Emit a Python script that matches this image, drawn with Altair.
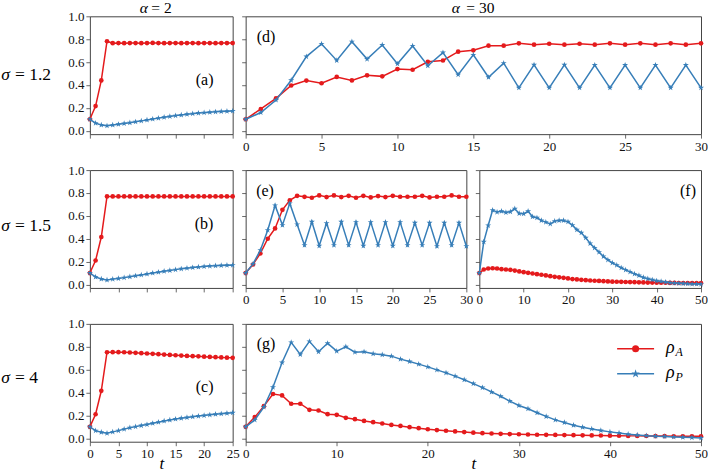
import altair as alt
import pandas as pd

RED = "#e41a1c"
BLUE = "#377eb8"
FONT = "Liberation Serif, DejaVu Serif, serif"
FRAME = "#444444"

# five-pointed star inside the [-1, 1] box
STAR = ("M0,-1L0.225,-0.309L0.951,-0.309L0.363,0.118L0.588,0.809L0,0.382"
        "L-0.588,0.809L-0.363,0.118L-0.951,-0.309L-0.225,-0.309Z")

# ---- alpha = 2 column (t = 0..25) ----
A_RHO_A = [0.100, 0.215, 0.440, 0.782, 0.765, 0.766, 0.765, 0.766, 0.766, 0.765,
           0.766, 0.767, 0.766, 0.765, 0.766, 0.766, 0.765, 0.766, 0.766, 0.765,
           0.766, 0.766, 0.765, 0.766, 0.766, 0.766]
A_RHO_P = [0.100, 0.066, 0.050, 0.043, 0.050, 0.056, 0.063, 0.070, 0.078, 0.086,
           0.094, 0.102, 0.110, 0.118, 0.125, 0.132, 0.138, 0.144, 0.149, 0.154,
           0.158, 0.162, 0.165, 0.168, 0.170, 0.172]

B_RHO_A = [0.100, 0.210, 0.415, 0.770, 0.770, 0.770, 0.770, 0.770, 0.770, 0.770,
           0.770, 0.770, 0.770, 0.770, 0.770, 0.770, 0.770, 0.770, 0.770, 0.770,
           0.770, 0.770, 0.770, 0.770, 0.770, 0.770]
B_RHO_P = [0.100, 0.066, 0.048, 0.040, 0.047, 0.053, 0.060, 0.068, 0.076, 0.084,
           0.092, 0.100, 0.108, 0.116, 0.123, 0.130, 0.137, 0.143, 0.148, 0.153,
           0.157, 0.161, 0.164, 0.166, 0.168, 0.169]

C_RHO_A = [0.100, 0.210, 0.415, 0.752, 0.753, 0.753, 0.752, 0.750, 0.747, 0.744,
           0.741, 0.738, 0.735, 0.732, 0.729, 0.726, 0.723, 0.720, 0.718, 0.716,
           0.713, 0.711, 0.709, 0.707, 0.705, 0.703]
C_RHO_P = [0.100, 0.067, 0.053, 0.044, 0.056, 0.067, 0.080, 0.092, 0.102, 0.111,
           0.120, 0.131, 0.141, 0.151, 0.160, 0.168, 0.175, 0.182, 0.188, 0.194,
           0.199, 0.205, 0.210, 0.214, 0.219, 0.223]

# ---- alpha = 30 column ----
D_RHO_A = [0.100, 0.190, 0.283, 0.395, 0.438, 0.415, 0.470, 0.440, 0.484, 0.475,
           0.539, 0.533, 0.602, 0.614, 0.691, 0.703, 0.743, 0.743, 0.764, 0.752,
           0.760, 0.752, 0.760, 0.752, 0.764, 0.752, 0.764, 0.752, 0.764, 0.752,
           0.764]
D_RHO_P = [0.100, 0.159, 0.268, 0.441, 0.648, 0.758, 0.614, 0.778, 0.626, 0.749,
           0.585, 0.741, 0.568, 0.683, 0.490, 0.663, 0.467, 0.591, 0.375, 0.576,
           0.375, 0.576, 0.375, 0.574, 0.375, 0.574, 0.375, 0.574, 0.375, 0.574,
           0.375]

E_RHO_A = [0.100, 0.175, 0.271, 0.400, 0.490, 0.653, 0.735, 0.775, 0.766, 0.758,
           0.779, 0.764, 0.779, 0.764, 0.775, 0.758, 0.775, 0.761, 0.773, 0.764,
           0.775, 0.767, 0.767, 0.767, 0.775, 0.761, 0.767, 0.767, 0.779, 0.767,
           0.767]
E_RHO_P = [0.100, 0.180, 0.300, 0.475, 0.691, 0.519, 0.709, 0.525, 0.344, 0.548,
           0.338, 0.536, 0.344, 0.548, 0.344, 0.545, 0.338, 0.545, 0.344, 0.545,
           0.338, 0.545, 0.344, 0.539, 0.344, 0.539, 0.335, 0.539, 0.344, 0.539,
           0.335]

F_RHO_A = [0.100, 0.131, 0.140, 0.142, 0.140, 0.134, 0.131, 0.128, 0.122, 0.114,
           0.108, 0.102, 0.096, 0.090, 0.085, 0.079, 0.073, 0.067, 0.063, 0.058,
           0.053, 0.047, 0.044, 0.041, 0.038, 0.035, 0.033, 0.031, 0.029, 0.027,
           0.025, 0.024, 0.023, 0.022, 0.021, 0.020, 0.019, 0.018, 0.017, 0.017,
           0.016, 0.015, 0.015, 0.014, 0.014, 0.013, 0.013, 0.013, 0.012, 0.012,
           0.012]
F_RHO_P = [0.100, 0.373, 0.516, 0.650, 0.633, 0.640, 0.630, 0.636, 0.662, 0.621,
           0.618, 0.640, 0.592, 0.583, 0.560, 0.545, 0.530, 0.554, 0.560, 0.560,
           0.548, 0.519, 0.478, 0.452, 0.408, 0.359, 0.320, 0.283, 0.245, 0.215,
           0.189, 0.169, 0.146, 0.128, 0.110, 0.093, 0.079, 0.061, 0.050, 0.041,
           0.032, 0.027, 0.021, 0.015, 0.012, 0.010, 0.008, 0.006, 0.005, 0.004,
           0.003]

G_RHO_A = [0.100, 0.185, 0.281, 0.387, 0.375, 0.302, 0.302, 0.249, 0.243, 0.211,
           0.205, 0.179, 0.167, 0.152, 0.141, 0.129, 0.117, 0.108, 0.097, 0.088,
           0.079, 0.072, 0.066, 0.060, 0.054, 0.049, 0.045, 0.042, 0.039, 0.037,
           0.035, 0.033, 0.031, 0.030, 0.029, 0.028, 0.027, 0.026, 0.025, 0.024,
           0.023, 0.022, 0.021, 0.021, 0.020, 0.019, 0.019, 0.018, 0.018, 0.017,
           0.017]
G_RHO_P = [0.100, 0.161, 0.273, 0.446, 0.662, 0.838, 0.733, 0.847, 0.756, 0.830,
           0.762, 0.800, 0.753, 0.756, 0.739, 0.730, 0.718, 0.692, 0.671, 0.648,
           0.624, 0.598, 0.572, 0.543, 0.512, 0.478, 0.443, 0.405, 0.367, 0.325,
           0.287, 0.258, 0.223, 0.191, 0.161, 0.138, 0.114, 0.097, 0.082, 0.068,
           0.056, 0.047, 0.035, 0.029, 0.023, 0.018, 0.015, 0.012, 0.009, 0.006,
           0.003]

Y_TICKS = [0.0, 0.2, 0.4, 0.6, 0.8, 1.0]
X_TICKS_25 = [0, 5, 10, 15, 20, 25]
X_TICKS_30 = [0, 5, 10, 15, 20, 25, 30]
X_TICKS_50 = [0, 10, 20, 30, 40, 50]

LEFT_W, WIDE_W, MID_W, ROW_H = 143, 456, 221, 118


def text_layer(label, x, y, size=16, align="left", baseline="alphabetic", style="normal"):
    return alt.Chart(pd.DataFrame({"label": [label]})).mark_text(
        font=FONT, fontSize=size, align=align, baseline=baseline,
        fontStyle=style, color="black"
    ).encode(text="label:N", x=alt.value(x), y=alt.value(y))


def panel(rho_a, rho_p, xmax, xticks, width, tag, tag_x, tag_y, tag_align="left",
          xlabels=True, ylabels=False, xtitle=False, extras=()):
    t = list(range(len(rho_a)))
    da = pd.DataFrame({"t": t, "rho": rho_a})
    dp = pd.DataFrame({"t": t, "rho": rho_p})

    xkw = dict(values=xticks, labels=xlabels, labelFlush=False)
    xkw["title"] = "t" if xtitle else None
    ykw = dict(values=Y_TICKS, labels=ylabels, format=".1f", title=None)

    x = alt.X("t:Q", scale=alt.Scale(domain=[0, xmax], nice=False, zero=False),
              axis=alt.Axis(**xkw))
    y = alt.Y("rho:Q", scale=alt.Scale(domain=[-0.03, 1.0], nice=False, zero=False),
              axis=alt.Axis(**ykw))

    layers = [
        alt.Chart(da).mark_line(color=RED, strokeWidth=1.5).encode(x=x, y=y),
        alt.Chart(da).mark_point(shape="circle", filled=True, color=RED, size=22,
                                 opacity=1).encode(x=x, y=y),
        alt.Chart(dp).mark_line(color=BLUE, strokeWidth=1.5).encode(x=x, y=y),
        alt.Chart(dp).mark_point(shape=STAR, filled=True, color=BLUE, size=40,
                                 opacity=1).encode(x=x, y=y),
        text_layer(tag, tag_x, tag_y, size=16, align=tag_align, baseline="middle"),
    ]
    layers.extend(extras)
    return alt.layer(*layers).properties(width=width, height=ROW_H)


def sigma_label(value, baseline_y):
    return [
        text_layer("σ", -80, baseline_y, size=17.5, align="right", style="italic"),
        text_layer("= " + value, -75, baseline_y, size=17.5, align="left"),
    ]


def alpha_label(value, x_alpha, x_eq):
    return [
        text_layer("α", x_alpha, -3.5, size=15.5, align="right", style="italic"),
        text_layer("= " + value, x_eq, -3.5, size=15.5, align="left"),
    ]


one = pd.DataFrame({"k": [0]})
legend_layers = [
    alt.Chart(one).mark_rule(color=RED, strokeWidth=1.5).encode(
        x=alt.value(372), x2=alt.value(409), y=alt.value(25)),
    alt.Chart(one).mark_point(shape="circle", filled=True, color=RED, size=50,
                              opacity=1).encode(x=alt.value(390.5), y=alt.value(25)),
    alt.Chart(one).mark_rule(color=BLUE, strokeWidth=1.5).encode(
        x=alt.value(372), x2=alt.value(409), y=alt.value(50)),
    alt.Chart(one).mark_point(shape=STAR, filled=True, color=BLUE, size=80,
                              opacity=1).encode(x=alt.value(390.5), y=alt.value(50)),
    text_layer("ρ", 421, 29, size=18, style="italic"),
    text_layer("A", 430.5, 32.5, size=12, style="italic"),
    text_layer("ρ", 421, 54, size=18, style="italic"),
    text_layer("P", 430.5, 57.5, size=12, style="italic"),
]

pa = panel(A_RHO_A, A_RHO_P, 25, X_TICKS_25, LEFT_W, "(a)", 106, 64,
           xlabels=False, ylabels=True,
           extras=sigma_label("1.2", 64) + alpha_label("2", 58, 61.5))
pd_ = panel(D_RHO_A, D_RHO_P, 30, X_TICKS_30, WIDE_W, "(d)", 11, 21,
            extras=alpha_label("30", 214.5, 221))

pb = panel(B_RHO_A, B_RHO_P, 25, X_TICKS_25, LEFT_W, "(b)", 105, 54,
           xlabels=False, ylabels=True, extras=sigma_label("1.5", 60.5))
pe = panel(E_RHO_A, E_RHO_P, 30, X_TICKS_30, MID_W, "(e)", 10.5, 20.5)
pf = panel(F_RHO_A, F_RHO_P, 50, X_TICKS_50, MID_W + 1, "(f)", 217, 20.5,
           tag_align="right")

pc = panel(C_RHO_A, C_RHO_P, 25, X_TICKS_25, LEFT_W, "(c)", 106, 63,
           ylabels=True, xtitle=True, extras=sigma_label("4", 59))
pg = panel(G_RHO_A, G_RHO_P, 50, X_TICKS_50, WIDE_W, "(g)", 11, 20,
           xtitle=True, extras=legend_layers)

row1 = alt.hconcat(pa, pd_, spacing=13, bounds="flush")
row2 = alt.hconcat(pb, pe, pf, spacing=13, bounds="flush")
row3 = alt.hconcat(pc, pg, spacing=13, bounds="flush")

chart = alt.vconcat(row1, row2, row3, spacing=9).properties(
    padding={"left": 0, "top": 0, "right": 0, "bottom": 0}
).configure_view(
    stroke=FRAME, strokeWidth=1
).configure_axis(
    domain=False, grid=False,
    tickColor=FRAME, tickSize=4, tickWidth=0.8,
    labelFont=FONT, labelFontSize=13, labelColor="#111111", labelPadding=2,
    titleFont=FONT, titleFontSize=17, titleFontStyle="italic", titleFontWeight="normal",
    titleColor="black", titlePadding=-5
)

chart.save("out.html", embed_options={"renderer": "svg", "actions": False})
